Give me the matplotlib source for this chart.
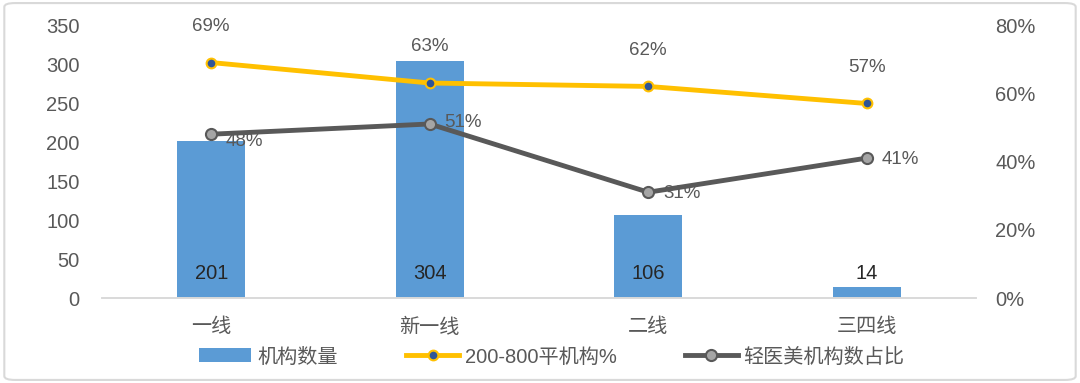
import matplotlib
matplotlib.use("Agg")
import matplotlib.pyplot as plt
from matplotlib.patches import FancyBboxPatch
from matplotlib.ticker import FuncFormatter

plt.rcParams['font.family'] = ['Liberation Sans', 'Noto Sans CJK SC', 'DejaVu Sans']

# data
categories = ['一线', '新一线', '二线', '三四线']
counts = [201, 304, 106, 14]
pct_200_800 = [0.69, 0.63, 0.62, 0.57]
pct_light = [0.48, 0.51, 0.31, 0.41]

TXT = '#595959'
BAR = '#5B9BD5'
YEL = '#FFC000'
GRY = '#595959'

fig = plt.figure(figsize=(10.8, 3.83), dpi=100)
fig.patches.append(FancyBboxPatch((0.004, 0.008), 0.992, 0.984, boxstyle='round,pad=0,rounding_size=0.01',
                                  transform=fig.transFigure, facecolor='white',
                                  edgecolor='#D9D9D9', linewidth=1.5, zorder=-1))

ax = fig.add_axes([0.0944, 0.2219, 0.8093, 0.7128])
ax.patch.set_alpha(0)
x = list(range(len(categories)))
bars = ax.bar(x, counts, width=0.31, color=BAR, label='机构数量', zorder=2)
ax.set_xlim(-0.5, len(categories) - 0.5)
ax.set_ylim(0, 350)
ax.set_yticks(range(0, 351, 50))
for xi, c in zip(x, counts):
    ax.text(xi, 31, str(c), ha='center', va='center', fontsize=14.5, color='#262626', zorder=5)

ax2 = ax.twinx()
ax2.set_ylim(0, 0.8)
ax2.set_yticks([0, 0.2, 0.4, 0.6, 0.8])
ax2.yaxis.set_major_formatter(FuncFormatter(lambda v, p: f'{v*100:.0f}%'))

l1, = ax2.plot(x, pct_200_800, color=YEL, linewidth=3.5, marker='o', markersize=7,
               markerfacecolor='#2F5597', markeredgecolor=YEL, markeredgewidth=1.5,
               label='200-800平机构%', zorder=3)
l2, = ax2.plot(x, pct_light, color=GRY, linewidth=3.5, marker='o', markersize=8,
               markerfacecolor='#A5A5A5', markeredgecolor=GRY, markeredgewidth=1.5,
               label='轻医美机构数占比', zorder=3)

for xi, v in zip(x, pct_200_800):
    ax2.annotate(f'{v*100:.0f}%', (xi, v), xytext=(0, 26), textcoords='offset points',
                 ha='center', va='center', fontsize=13.5, color=TXT)
gray_offsets = [(24, -5), (24, 1), (24, -1), (24, -1)]
for xi, v, off in zip(x, pct_light, gray_offsets):
    ax2.annotate(f'{v*100:.0f}%', (xi, v), xytext=off, textcoords='offset points',
                 ha='center', va='center', fontsize=13.5, color=TXT)

for a in (ax, ax2):
    for s in ['top', 'left', 'right']:
        a.spines[s].set_visible(False)
    a.spines['bottom'].set_color('#D9D9D9')
    a.spines['bottom'].set_linewidth(1.2)
    a.tick_params(axis='both', length=0, labelsize=14.5, colors=TXT)
ax.tick_params(axis='y', pad=16)
ax2.tick_params(axis='y', pad=14)
ax.set_xticks(x)
ax.set_xticklabels(categories, fontsize=14.5)
ax.tick_params(axis='x', pad=14)
ax.set_zorder(1)
ax2.set_zorder(2)

fig.legend([bars, l1, l2], ['机构数量', '200-800平机构%', '轻医美机构数占比'],
           loc='center', bbox_to_anchor=(0.511, 0.068), ncol=3, frameon=False,
           fontsize=14.5, labelcolor=TXT, handlelength=2.6, columnspacing=3.4, handletextpad=0.3)

fig.savefig('out.png', dpi=100)
